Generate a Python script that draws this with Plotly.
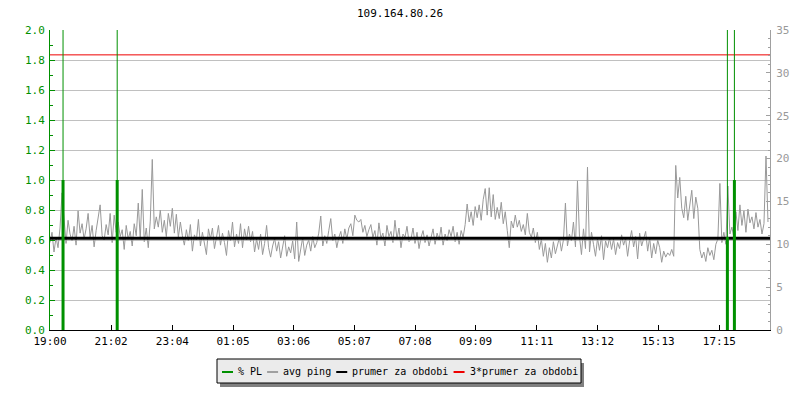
import pandas as pd
import plotly.graph_objects as go

# ---------------- data ----------------
title_text = "109.164.80.26"
start_time = "2024-01-01 19:00"
step_minutes = 4
range_minutes = 1436

ping_ms = [
    10.2, 11.4, 9.1, 10.8, 9.6, 11.9, 16.0, 12.6, 10.1, 12.8, 11.2, 10.4, 12.1, 9.9, 13.9, 11.3, 12.4, 10.6, 11.8, 13.6,
    10.8, 12.2, 9.7, 11.6, 12.9, 14.6, 11.0, 10.5, 12.3, 11.1, 13.6, 10.2, 13.4, 11.4, 12.6, 10.9, 11.7, 9.4, 12.2, 10.6,
    11.5, 9.8, 12.4, 11.0, 14.8, 10.6, 16.4, 10.3, 11.9, 9.6, 12.7, 19.9, 11.8, 13.2, 12.0, 14.0, 11.4, 12.8, 10.9, 13.6,
    12.1, 14.2, 11.3, 13.5, 10.8, 12.6, 11.0, 9.9, 11.7, 10.4, 12.3, 9.2, 11.1, 10.5, 12.9, 9.8, 11.4, 10.1, 8.8, 11.8,
    10.6, 11.9, 9.5, 10.8, 12.2, 9.9, 11.3, 10.2, 8.7, 11.6, 10.4, 12.6, 9.7, 11.2, 10.1, 12.4, 9.6, 11.8, 10.5, 12.1,
    10.3, 11.5, 9.1, 10.6, 9.4, 11.2, 8.8, 10.1, 12.2, 9.6, 8.5, 9.8, 10.7, 9.2, 10.3, 8.4, 9.9, 11.0, 8.6, 9.7,
    9.0, 10.4, 8.3, 12.6, 8.0, 9.5, 10.8, 8.7, 9.9, 10.5, 9.2, 10.9, 9.6, 10.2, 11.3, 13.3, 9.8, 11.0, 10.1, 11.6,
    13.0, 10.4, 11.2, 9.6, 10.8, 11.5, 10.1, 11.8, 10.6, 11.9, 12.4, 11.0, 13.4, 12.8, 12.6, 12.9, 11.4, 12.2, 10.9, 11.7,
    12.3, 10.8, 11.6, 9.9, 12.5, 10.7, 11.3, 9.8, 12.2, 10.9, 11.5, 10.2, 12.8, 10.6, 11.9, 9.6, 11.2, 10.8, 12.1, 10.3,
    10.6, 11.9, 10.1, 11.4, 9.5, 10.8, 11.6, 10.2, 11.1, 9.8, 10.7, 11.8, 10.0, 11.3, 10.5, 12.0, 9.9, 11.2, 10.4, 11.7,
    10.9, 12.1, 10.3, 11.4, 10.0, 11.6, 10.8, 12.3, 14.7, 12.6, 13.8, 12.2, 14.4, 13.1, 14.6, 12.8, 15.2, 16.5, 13.4, 16.6,
    13.2, 15.8, 12.9, 14.3, 13.0, 14.9, 12.4, 13.8, 11.6, 9.6, 12.7, 11.9, 13.4, 12.0, 12.8, 11.5, 12.3, 11.1, 13.6, 11.4,
    10.8, 11.9, 10.2, 11.4, 9.4, 10.6, 8.6, 10.1, 7.9, 9.6, 8.4, 10.3, 8.9, 9.7, 10.8, 9.2, 10.5, 14.8, 9.8, 11.2,
    10.4, 12.6, 9.7, 17.4, 10.9, 8.8, 11.8, 9.5, 19.0, 9.1, 11.4, 10.0, 8.6, 10.7, 9.3, 11.0, 8.2, 10.4, 9.6, 10.8,
    9.4, 10.6, 8.8, 10.2, 9.5, 11.1, 9.9, 10.7, 8.6, 10.4, 11.6, 9.7, 10.9, 8.3, 11.3, 9.8, 10.6, 11.5, 9.2, 10.8,
    8.4, 10.1, 8.9, 10.5, 9.6, 7.9, 9.2, 8.5, 9.0, 8.7, 9.4, 8.6, 19.2, 15.4, 17.8, 14.2, 13.1, 15.6, 12.8, 14.3,
    16.3, 13.0, 15.5, 14.2, 9.4, 8.4, 9.1, 8.0, 9.6, 8.7, 9.3, 8.2, 10.0, 10.6, 17.1, 10.2, 11.4, 10.0, 16.8, 11.2,
    12.0, 10.8, 13.8, 11.6, 14.6, 12.2, 13.9, 11.4, 14.1, 12.5, 13.2, 11.8, 13.7, 12.0, 12.9, 11.2, 12.4, 20.3, 12.6,
]

pl_times = ["2024-01-01 19:26", "2024-01-01 21:14", "2024-01-02 17:31", "2024-01-02 17:45"]
pl_percent = [1.0, 1.0, 0.62, 1.0]

mean_ping = 10.7

x_tick_labels = ["19:00", "21:02", "23:04", "01:05", "03:06", "05:07",
                 "07:08", "09:09", "11:11", "13:12", "15:13", "17:15"]

pl_range = [0, 2]
ping_range = [0, 35]

legend_labels = ["% PL", "avg ping", "prumer za obdobi", "3*prumer za obdobi"]
legend_colors = ["#009000", "#a0a0a0", "#000000", "#ee0000"]

# ---------------- style ----------------
GREEN, GRAY, BLACK, RED = legend_colors
PING_GRAY = "#999999"
FONT = "DejaVu Sans Mono"
W, H = 800, 400
OFF = 8  # page body margin of the browser
ML, MT = 42, 22
PW, PH = 720, 300
MR = W - ML - PW
MB = H - MT - PH


def px(xs):
    """screen x pixel -> paper coordinate"""
    return (xs - OFF - ML) / PW


def py(ys):
    """screen y pixel -> paper coordinate"""
    return (H - MB - (ys - OFF)) / PH


t0 = pd.Timestamp(start_time)
times = pd.date_range(t0, periods=len(ping_ms), freq=f"{step_minutes}min")
t_end = t0 + pd.Timedelta(minutes=range_minutes)

# tick positions from labels (wrapping past midnight)
tick_vals = []
day = t0.normalize()
prev = -1
for lab in x_tick_labels:
    h, m = map(int, lab.split(":"))
    mins = h * 60 + m
    if mins < prev:
        day = day + pd.Timedelta(days=1)
    prev = mins
    tick_vals.append(day + pd.Timedelta(minutes=mins))

fig = go.Figure()

fig.add_trace(go.Scatter(x=times, y=ping_ms, mode="lines", name="avg ping",
                         line=dict(color=PING_GRAY, width=1), yaxis="y", showlegend=False))
fig.add_trace(go.Scatter(x=[t0, t_end], y=[mean_ping, mean_ping], mode="lines",
                         name="prumer za obdobi", line=dict(color=BLACK, width=3),
                         yaxis="y", showlegend=False))
fig.add_trace(go.Scatter(x=[t0, t_end], y=[3 * mean_ping, 3 * mean_ping], mode="lines",
                         name="3*prumer za obdobi", line=dict(color=RED, width=1),
                         yaxis="y", showlegend=False))

# packet loss: thin event markers to the top, thick bars at the value
thin_x, thin_y, bar_x, bar_y = [], [], [], []
for t, v in zip(pl_times, pl_percent):
    tt = pd.Timestamp(t)
    thin_x += [tt, tt, None]
    thin_y += [0, pl_range[1], None]
    bar_x += [tt, tt, None]
    bar_y += [0, v, None]
fig.add_trace(go.Scatter(x=thin_x, y=thin_y, mode="lines", name="% PL events",
                         line=dict(color=GREEN, width=1), yaxis="y2", showlegend=False))
fig.add_trace(go.Scatter(x=bar_x, y=bar_y, mode="lines", name="% PL",
                         line=dict(color=GREEN, width=3), yaxis="y2", showlegend=False))

# ---------------- manual legend ----------------
shapes = []
annotations = []
box_l, box_r, box_t, box_b = 217, 581, 359, 383
shapes.append(dict(type="rect", xref="paper", yref="paper",
                   x0=px(box_l + 3), x1=px(box_r + 3), y0=py(box_b + 4), y1=py(box_t + 4),
                   fillcolor="#808080", line=dict(width=0), layer="above"))
shapes.append(dict(type="rect", xref="paper", yref="paper",
                   x0=px(box_l), x1=px(box_r), y0=py(box_b), y1=py(box_t),
                   fillcolor="#ebebeb", line=dict(color="#000000", width=1), layer="above"))
cx = 222.0
char_w = 6.02
for lab, col in zip(legend_labels, legend_colors):
    shapes.append(dict(type="line", xref="paper", yref="paper",
                       x0=px(cx), x1=px(cx + 11), y0=py(372), y1=py(372),
                       line=dict(color=col, width=2), layer="above"))
    annotations.append(dict(text=lab, xref="paper", yref="paper",
                            x=px(cx + 14), y=py(371), xanchor="left", yanchor="middle",
                            showarrow=False, font=dict(family=FONT, size=10, color="#000000")))
    cx = cx + 15 + len(lab) * char_w + 6

# title as an annotation fully inside the figure
annotations.append(dict(text=title_text, xref="paper", yref="paper",
                        x=px(400), y=py(13), xanchor="center", yanchor="middle",
                        showarrow=False, font=dict(family=FONT, size=11, color="#000000")))

fig.update_layout(
    width=W, height=H,
    margin=dict(l=ML, r=MR, t=MT, b=MB, autoexpand=False),
    paper_bgcolor="white", plot_bgcolor="white",
    showlegend=False,
    xaxis=dict(type="date", range=[t0, t_end], tickmode="array", tickvals=tick_vals,
               ticktext=x_tick_labels, ticks="inside", ticklen=5, tickcolor="#000000",
               showline=True, linecolor="#000000", linewidth=1, showgrid=False,
               zeroline=False, ticklabelstandoff=1,
               tickfont=dict(family=FONT, size=11, color="#000000")),
    yaxis=dict(range=ping_range, side="right", dtick=5, showline=True, linecolor="#a0a0a0",
               linewidth=1, ticks="inside", ticklen=4, tickcolor="#a0a0a0",
               minor=dict(dtick=1, ticklen=2, ticks="inside", tickcolor="#a0a0a0", showgrid=False),
               showgrid=False, zeroline=False, ticklabelstandoff=3,
               tickfont=dict(family=FONT, size=11, color="#999999")),
    yaxis2=dict(range=pl_range, side="left", overlaying="y", dtick=0.2, tickformat=".1f",
                showline=True, linecolor=GREEN, linewidth=1, ticks="inside", ticklen=5,
                tickcolor=GREEN, showgrid=True, gridcolor="#c0c0c0", gridwidth=1,
                minor=dict(dtick=0.1, ticklen=3, ticks="inside", tickcolor=GREEN, showgrid=False),
                zeroline=False, ticklabelstandoff=2,
                tickfont=dict(family=FONT, size=11, color=GREEN)),
    shapes=shapes,
    annotations=annotations,
)

fig.write_html("out.html")
